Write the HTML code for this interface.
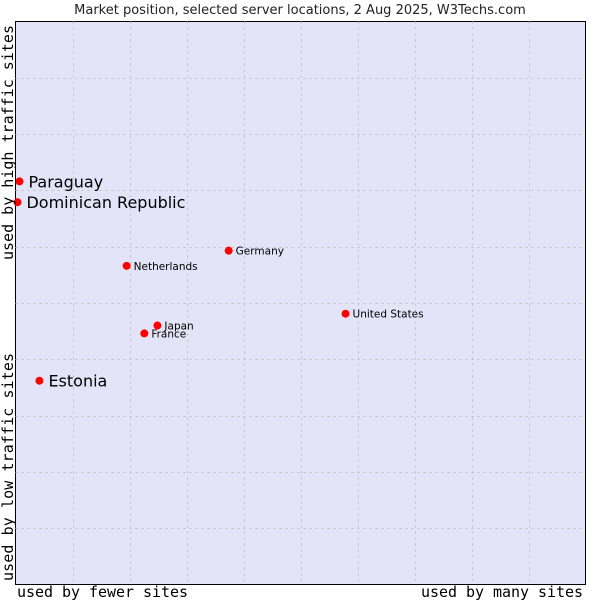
<!DOCTYPE html>
<html><head><meta charset="utf-8"><style>
body{margin:0;background:#fff;}
svg{display:block;}
</style></head><body>
<svg id="chart" width="600" height="600" xmlns="http://www.w3.org/2000/svg">
<text x="300" y="14" text-anchor="middle" font-family="DejaVu Sans, sans-serif" font-size="13" fill="#222">Market position, selected server locations, 2 Aug 2025, W3Techs.com</text>
<rect x="15.5" y="21.5" width="570" height="563" fill="#e4e4f8" stroke="#000" stroke-width="1"/>
<g id="grid"></g>
<g id="points"></g>
<text x="17" y="597" textLength="171" font-family="DejaVu Sans Mono, monospace" font-size="15" fill="#000">used by fewer sites</text>
<text x="421" y="597" textLength="162" font-family="DejaVu Sans Mono, monospace" font-size="15" fill="#000">used by many sites</text>
<text transform="translate(13,581) rotate(-90)" textLength="228" font-family="DejaVu Sans Mono, monospace" font-size="15" fill="#000">used by low traffic sites</text>
<text transform="translate(13,260) rotate(-90)" textLength="235" font-family="DejaVu Sans Mono, monospace" font-size="15" fill="#000">used by high traffic sites</text>
</svg>
<script>
const names = ["Paraguay","Dominican Republic","Estonia","Netherlands","Germany","United States","Japan","France"];
const xValues = [0.7,0.35,4.2,19.5,37.4,57.9,24.9,22.6];
const yValues = [71.6,67.9,36.2,56.6,59.3,48.1,46.0,44.6];
const bigLabel = [true,true,true,false,false,false,false,false];
const gridTicks = [10,20,30,40,50,60,70,80,90];
const NS="http://www.w3.org/2000/svg";
const L=15.5,R=585.5,T=21.5,B=584.5;
function sx(v){return L+(R-L)*v/100;}
function sy(v){return B-(B-T)*v/100;}
const grid=document.getElementById('grid');
gridTicks.forEach(t=>{
  const v=document.createElementNS(NS,'line');
  v.setAttribute('x1',Math.round(sx(t))+0.5);v.setAttribute('x2',Math.round(sx(t))+0.5);
  v.setAttribute('y1',T);v.setAttribute('y2',B);
  v.setAttribute('stroke','#c0c0c0');v.setAttribute('stroke-dasharray','2,4');
  
  
  grid.appendChild(v);
  const h=document.createElementNS(NS,'line');
  h.setAttribute('y1',Math.round(sy(t))+0.5);h.setAttribute('y2',Math.round(sy(t))+0.5);
  h.setAttribute('x1',L);h.setAttribute('x2',R);
  h.setAttribute('stroke','#c0c0c0');h.setAttribute('stroke-dasharray','2,4');
  
  
  grid.appendChild(h);
});
const pts=document.getElementById('points');
names.forEach((n,i)=>{
  const x=sx(xValues[i]),y=sy(yValues[i]);
  const c=document.createElementNS(NS,'circle');
  c.setAttribute('cx',x);c.setAttribute('cy',y);c.setAttribute('r',4);
  c.setAttribute('fill','#f00');
  
  
  pts.appendChild(c);
  const t=document.createElementNS(NS,'text');
  t.setAttribute('x',x+(bigLabel[i]?9:7));
  t.setAttribute('y',y+(bigLabel[i]?6:4));
  t.setAttribute('font-family','DejaVu Sans, sans-serif');
  t.setAttribute('font-size',bigLabel[i]?16:10.5);
  t.setAttribute('fill','#000');
  t.textContent=n;
  
  
  pts.appendChild(t);
});
</script>
</body></html>
